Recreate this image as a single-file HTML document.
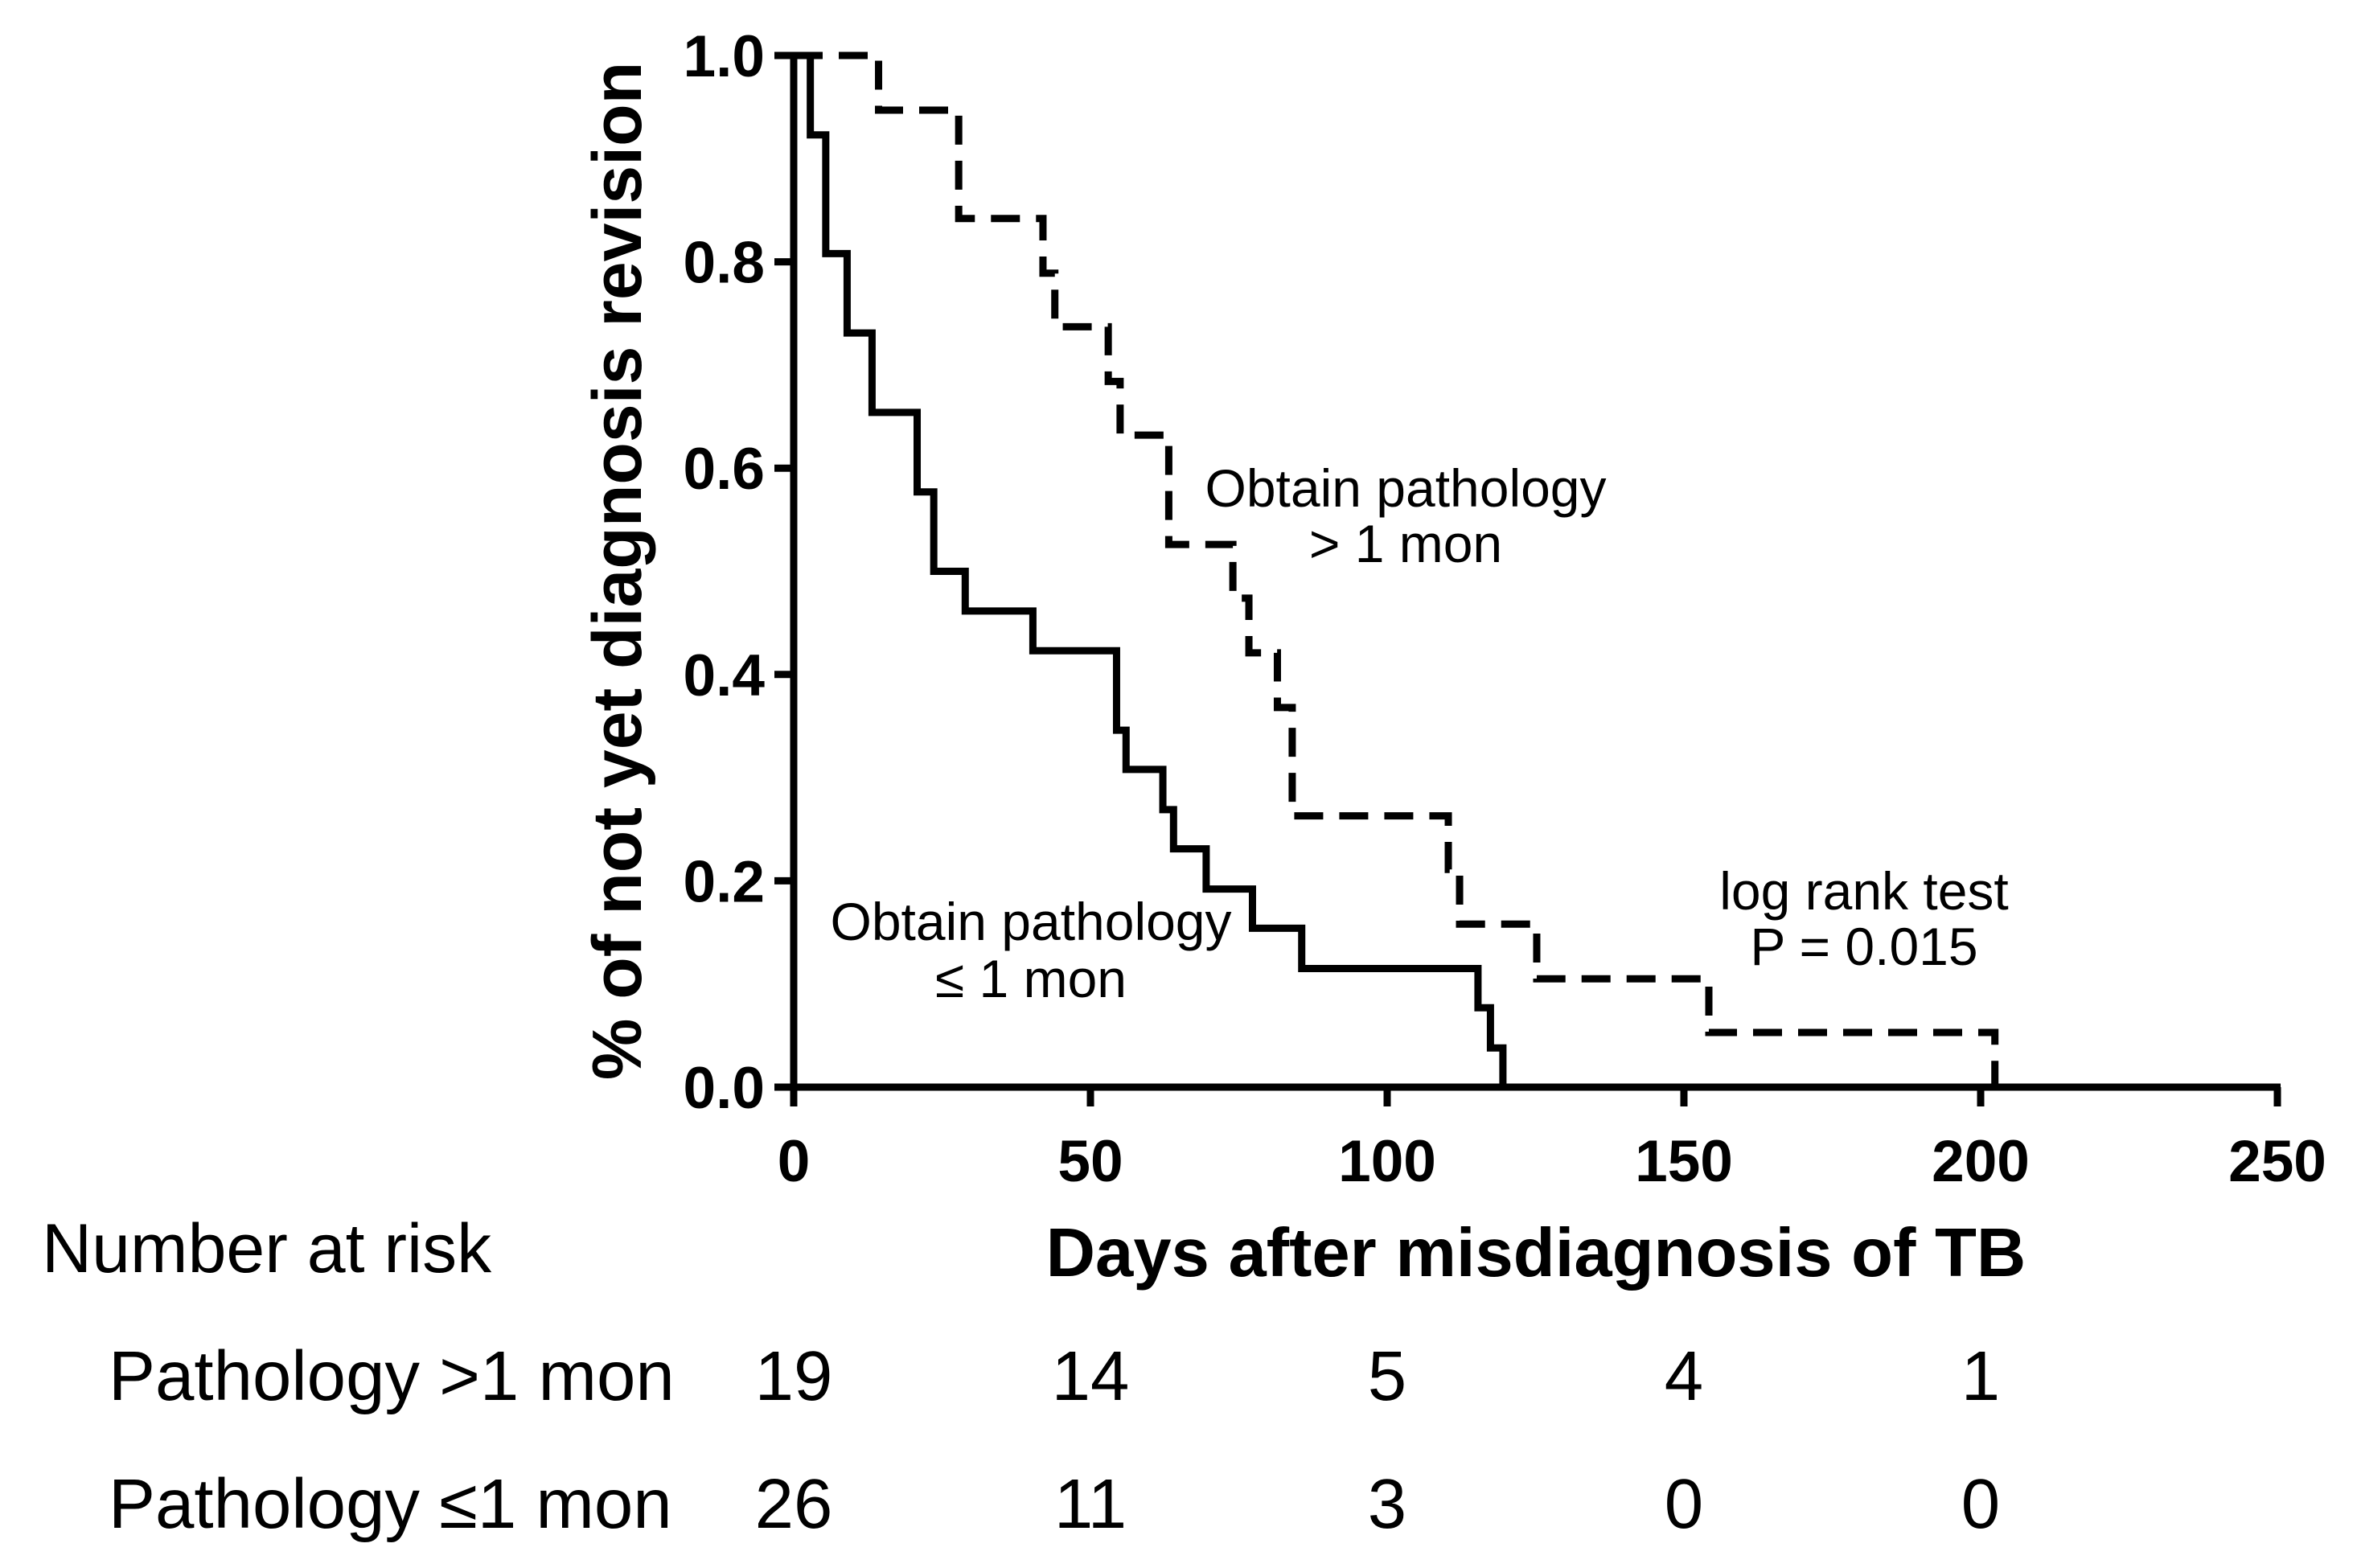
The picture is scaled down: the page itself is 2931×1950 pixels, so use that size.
<!DOCTYPE html>
<html><head><meta charset="utf-8"><style>
html,body{margin:0;padding:0;background:#fff;}
svg{display:block;}
text{font-family:"Liberation Sans",Arial,sans-serif;fill:#000;}
</style></head><body>
<svg id="chart" width="2931" height="1950" viewBox="0 0 2931 1950" xmlns="http://www.w3.org/2000/svg"></svg>
<script>
// Data
const xTicks = [0, 50, 100, 150, 200, 250];
const yTicks = [0.0, 0.2, 0.4, 0.6, 0.8, 1.0];
// Pathology <=1 mon (solid): event times and survival after each step
const solidTimes = [0, 2.8, 5.4, 9, 13.2, 20.8, 23.6, 28.9, 40.3, 54.4, 56, 62.2, 64, 69.5, 77.3, 85.6, 115.3, 117.4, 119.5];
const solidSurv  = [1, 0.923, 0.808, 0.731, 0.654, 0.577, 0.5, 0.4615, 0.423, 0.346, 0.308, 0.269, 0.231, 0.192, 0.154, 0.115, 0.077, 0.038, 0];
// Pathology >1 mon (dashed)
const dashTimes = [0, 14.3, 27.8, 42, 44, 53, 55, 63.2, 74, 76.7, 81.5, 84, 110.3, 112.2, 125.2, 154.2, 202.4];
const dashSurv  = [1, 0.947, 0.842, 0.789, 0.737, 0.684, 0.632, 0.526, 0.474, 0.421, 0.368, 0.263, 0.211, 0.158, 0.105, 0.053, 0];
const riskCols = [0, 50, 100, 150, 200];
const riskGt = [19, 14, 5, 4, 1];
const riskLe = [26, 11, 3, 0, 0];

const svg = document.getElementById('chart');
const NS = 'http://www.w3.org/2000/svg';
const X0 = 987, X1 = 2832, Y0 = 1352, Y1 = 69;
const xs = d => X0 + (d - 0) / 250 * (X1 - X0);
const ys = v => Y0 - v * (Y0 - Y1);
function el(tag, attrs, txt) {
  const e = document.createElementNS(NS, tag);
  for (const k in attrs) e.setAttribute(k, attrs[k]);
  if (txt !== undefined) e.textContent = txt;
  svg.appendChild(e);
  return e;
}
function stepPath(t, s) {
  let d = 'M' + xs(t[0]) + ' ' + ys(s[0]);
  for (let i = 1; i < t.length; i++) {
    d += ' H' + xs(t[i]) + ' V' + ys(s[i]);
  }
  return d;
}
// curves
let p = el('path', {d: stepPath(solidTimes, solidSurv), fill: 'none', stroke: '#000', 'stroke-width': 9, 'stroke-linejoin': 'miter'});


p = el('path', {d: stepPath(dashTimes, dashSurv), fill: 'none', stroke: '#000', 'stroke-width': 9, 'stroke-dasharray': '36 20'});


// axes
let a = el('line', {x1: X0, y1: Y1 - 2, x2: X0, y2: Y0 + 4, stroke: '#000', 'stroke-width': 9});


a = el('line', {x1: X0 - 4, y1: Y0, x2: X1 + 4, y2: Y0, stroke: '#000', 'stroke-width': 9});


xTicks.forEach(v => {
  const t = el('line', {x1: xs(v), y1: Y0, x2: xs(v), y2: Y0 + 24, stroke: '#000', 'stroke-width': 9});
  
  
  const l = el('text', {x: xs(v), y: Y0 + 117, 'text-anchor': 'middle', 'font-size': 73, 'font-weight': 'bold'}, String(v));
  
  
});
yTicks.forEach(v => {
  const t = el('line', {x1: X0 - 24, y1: ys(v), x2: X0, y2: ys(v), stroke: '#000', 'stroke-width': 9});
  
  
  const l = el('text', {x: X0 - 36, y: ys(v) + 26, 'text-anchor': 'end', 'font-size': 73, 'font-weight': 'bold'}, v.toFixed(1));
  
  
});
let t = el('text', {x: 0, y: 0, transform: 'translate(797,710) rotate(-90)', 'text-anchor': 'middle', 'font-size': 86, 'font-weight': 'bold'}, '% of not yet diagnosis revision');


t = el('text', {x: 1910, y: 1587, 'text-anchor': 'middle', 'font-size': 85, 'font-weight': 'bold'}, 'Days after misdiagnosis of TB');


// annotations
function ann(txt, x, y, name) {
  const e = el('text', {x: x, y: y, 'text-anchor': 'middle', 'font-size': 66}, txt);
  
  
}
ann('Obtain pathology', 1748, 630, 'label-gt-1-mon-line1');
ann('> 1 mon', 1748, 699, 'label-gt-1-mon-line2');
ann('Obtain pathology', 1282, 1169, 'label-le-1-mon-line1');
ann('\u2264 1 mon', 1282, 1240, 'label-le-1-mon-line2');
ann('log rank test', 2318, 1131, 'log-rank-label');
ann('P = 0.015', 2318, 1200, 'p-value-label');
// number at risk table
t = el('text', {x: 52, y: 1582, 'font-size': 86}, 'Number at risk');


t = el('text', {x: 135, y: 1741, 'font-size': 87}, 'Pathology >1 mon');


t = el('text', {x: 135, y: 1900, 'font-size': 87}, 'Pathology \u22641 mon');


riskCols.forEach((c, i) => {
  const cx = xs(c);
  let n = el('text', {x: cx, y: 1741, 'text-anchor': 'middle', 'font-size': 87}, String(riskGt[i]));
  
  
  n = el('text', {x: cx, y: 1900, 'text-anchor': 'middle', 'font-size': 87}, String(riskLe[i]));
  
  
});
</script>
</body></html>
